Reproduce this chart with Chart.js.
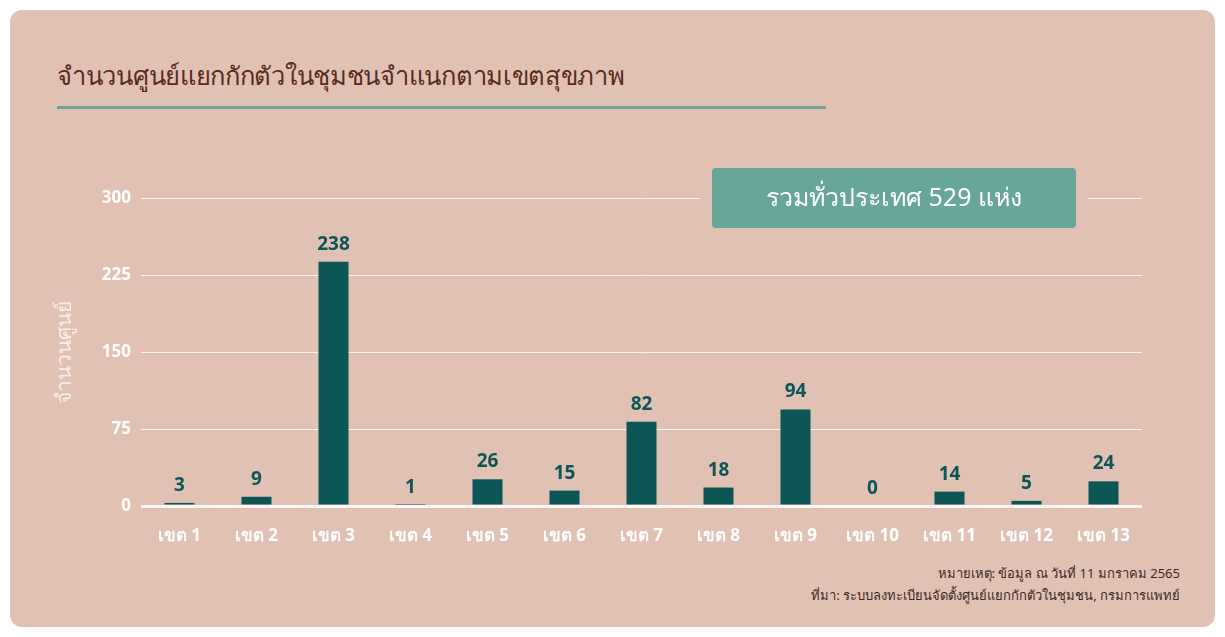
<!DOCTYPE html>
<html>
<head>
<meta charset="utf-8">
<script src="https://cdn.jsdelivr.net/npm/chart.js@4"></script>
<style>
  html, body { margin: 0; padding: 0; background: #ffffff; }
  body { width: 1225px; height: 637px; position: relative; overflow: hidden; font-family: "Noto Sans", "Lato", sans-serif; }
  .card { position: absolute; left: 10px; top: 10px; width: 1205px; height: 617px; background: #e2c1b5; border-radius: 12px; }
  .title { position: absolute; left: 57px; top: 56px; font-size: 25.5px; color: #5b2b22; letter-spacing: -0.3px; }
  .rule { position: absolute; left: 57px; top: 106px; width: 769px; height: 3px; background: #6aa597; }
  .note { position: absolute; right: 45px; font-size: 13px; color: #3d2a25; }
  canvas { position: absolute; left: 0; top: 0; }
</style>
</head>
<body>
<div class="card"></div>
<div class="title">จำนวนศูนย์แยกกักตัวในชุมชนจำแนกตามเขตสุขภาพ</div>
<div class="rule"></div>
<div class="note" style="top:563px">หมายเหตุ: ข้อมูล ณ วันที่ 11 มกราคม 2565</div>
<div class="note" style="top:585px">ที่มา: ระบบลงทะเบียนจัดตั้งศูนย์แยกกักตัวในชุมชน, กรมการแพทย์</div>
<canvas id="chart" width="1225" height="637"></canvas>
<script>
const regions = ['เขต 1', 'เขต 2', 'เขต 3', 'เขต 4', 'เขต 5', 'เขต 6', 'เขต 7', 'เขต 8', 'เขต 9', 'เขต 10', 'เขต 11', 'เขต 12', 'เขต 13']
const centres = [3, 9, 238, 1, 26, 15, 82, 18, 94, 0, 14, 5, 24]
const yTicks = [0, 75, 150, 225, 300]
const totalLabel = 'รวมทั่วประเทศ 529 แห่ง'

const barColor = '#0c5656'
const cardColor = '#e2c1b5'

// value labels above the bars
const valueLabels = {
  id: 'valueLabels',
  afterDatasetsDraw(chart) {
    const ctx = chart.ctx
    const meta = chart.getDatasetMeta(0)
    ctx.save()
    ctx.fillStyle = barColor
    ctx.font = 'bold 19px "Noto Sans", "Lato", sans-serif'
    ctx.textAlign = 'center'
    ctx.textBaseline = 'alphabetic'
    meta.data.forEach((bar, i) => {
      ctx.fillText(String(centres[i]), bar.x, Math.min(bar.y, bar.base) - 12)
    })
    ctx.restore()
  }
}

// the total box sitting on the top gridline
const totalBox = {
  id: 'totalBox',
  beforeDatasetsDraw(chart) {
    const ctx = chart.ctx
    const area = chart.chartArea
    const yTop = chart.scales.y.getPixelForValue(300)
    const w = 364, h = 60
    const x = area.right - 66 - w
    const y = yTop - 30
    ctx.save()
    ctx.fillStyle = cardColor
    ctx.fillRect(x - 12, y - 4, w + 24, h + 8)
    ctx.fillStyle = '#68a59a'
    ctx.beginPath()
    ctx.roundRect(x, y, w, h, 4)
    ctx.fill()
    ctx.fillStyle = '#ffffff'
    ctx.font = '25px "Noto Sans", "Lato", sans-serif'
    ctx.textAlign = 'center'
    ctx.textBaseline = 'middle'
    ctx.fillText(totalLabel, x + w / 2, y + h / 2 + 1)
    ctx.restore()
  }
}

new Chart(document.getElementById('chart'), {
  type: 'bar',
  data: {
    labels: regions,
    datasets: [{
      data: centres,
      backgroundColor: barColor,
      borderWidth: 0,
      categoryPercentage: 1,
      barPercentage: 0.39
    }]
  },
  options: {
    responsive: false,
    animation: false,
    layout: { padding: { left: 46, right: 83, top: 198, bottom: 71 } },
    plugins: { legend: { display: false }, tooltip: { enabled: false } },
    scales: {
      x: {
        grid: { display: false },
        border: { display: false },
        ticks: {
          color: '#ffffff',
          font: { size: 17, weight: 'bold', family: '"Noto Sans", "Lato", sans-serif' },
          padding: 12
        },
        afterFit(scale) { scale.height = 60 }
      },
      y: {
        min: 0,
        max: 300,
        afterBuildTicks(scale) { scale.ticks = yTicks.map(v => ({ value: v })) },
        grid: {
          color: 'rgba(255,255,255,0.85)',
          lineWidth: ctx => ctx.tick && ctx.tick.value === 0 ? 3 : 1,
          drawTicks: false
        },
        border: { display: false },
        ticks: {
          color: '#ffffff',
          font: { size: 17, weight: 'bold', family: '"Noto Sans", "Lato", sans-serif' },
          padding: 10
        },
        title: {
          display: true,
          text: 'จำนวนศูนย์',
          color: 'rgba(255,255,255,0.72)',
          font: { size: 21, family: '"Noto Sans", "Lato", sans-serif' },
          padding: { top: 6, bottom: 0 }
        },
        afterFit(scale) { scale.width = 95 }
      }
    }
  },
  plugins: [totalBox, valueLabels]
})
</script>
</body>
</html>
